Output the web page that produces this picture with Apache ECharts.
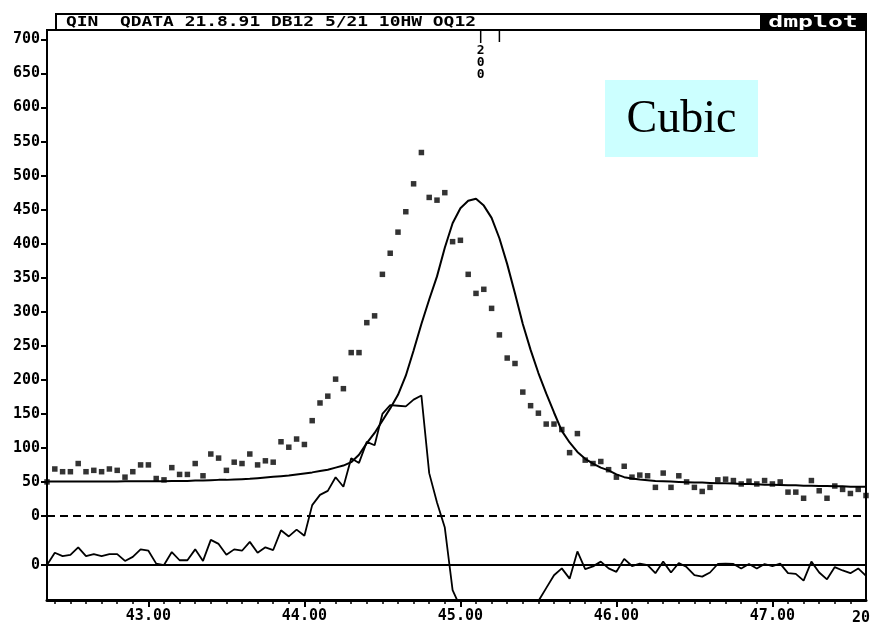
<!DOCTYPE html>
<html>
<head>
<meta charset="utf-8">
<script src="https://cdn.jsdelivr.net/npm/echarts@6/dist/echarts.min.js"></script>
<style>
html,body{margin:0;padding:0;background:#ffffff;}
#chart{width:870px;height:625px;}
</style>
</head>
<body>
<div id="chart"></div>
<script>
// ---- data ----
const twoTheta = [
  42.35,42.40,42.45,42.50,42.55,42.60,42.65,42.70,42.75,42.80,42.85,42.90,42.95,
  43.00,43.05,43.10,43.15,43.20,43.25,43.30,43.35,43.40,43.45,43.50,43.55,43.60,43.65,43.70,43.75,43.80,43.85,43.90,43.95,
  44.00,44.05,44.10,44.15,44.20,44.25,44.30,44.35,44.40,44.45,44.50,44.55,44.60,44.65,44.70,44.75,44.80,44.85,44.90,44.95,
  45.00,45.05,45.10,45.15,45.20,45.25,45.30,45.35,45.40,45.45,45.50,45.55,45.60,45.65,45.70,45.75,45.80,45.85,45.90,45.95,
  46.00,46.05,46.10,46.15,46.20,46.25,46.30,46.35,46.40,46.45,46.50,46.55,46.60,46.65,46.70,46.75,46.80,46.85,46.90,46.95,
  47.00,47.05,47.10,47.15,47.20,47.25,47.30,47.35,47.40,47.45,47.50,47.55,47.60
];
const observed = [
  50,
  69,65,65,77,65,67,65,69,67,57,65,75,75,55,53,71,61,61,77,59,
  91,85,67,79,77,91,75,81,79,109,101,113,105,140,166,176,201,187,240,240,
  284,294,355,386,417,447,488,534,468,464,475,403,405,355,327,333,305,266,232,224,
  182,162,151,135,135,127,93,121,82,77,80,68,57,73,57,60,59,42,63,42,
  59,50,42,36,42,53,54,52,47,51,47,52,47,50,35,35,26,52,37,26,
  44,39,33,39,30
];
const calculated = [
  50.5,50.5,50.5,50.5,50.5,50.5,50.5,50.5,50.5,50.5,51,51,51,51,51,51,51.5,51.5,51.5,52,
  52,52.5,53,53,53.5,54,54.5,55.5,56.5,57.5,58.5,59.5,61,62.5,64,66,68,71,74,79,
  90,107,122,140,158,178,206,243,282,318,352,394,430,452,463,466,456,438,408,370,
  327,282,244,210,180,152,125,108,94,84,77,71,67,61,57,55,53.5,52.5,51.5,51,
  50.5,50,49.5,49,49,48.5,48,48,47.5,47,47,46.5,46,46,45.5,45,45,44.5,44.5,44,
  44,43.5,43.5,43,43,43
];
const difference = [
  0,
  18,13,15,26,13,16,13,16,16,6,12,23,21,2,0,19,7,7,23,6,
  37,31,15,23,21,34,18,26,22,51,42,52,43,88,103,109,129,115,157,150,
  181,176,222,235,234,233,243,249,135,92,55,-37,-62,-111,-138,-122,-131,-139,-138,-106,
  -98,-82,-53,-34,-15,-5,-20,20,-6,-2,5,-5,-10,9,-1.5,2,0,-12,5,-11,
  3,-3,-15,-17,-11,1.5,2,1.5,-5,1.5,-5,1.5,-1.5,2,-12,-13,-23,5,-11,-21,
  -3,-8,-12,-5,-16
];
const yTickValues = [700,650,600,550,500,450,400,350,300,250,200,150,100,50,0];
const diffTickValues = [0];
const xMajorTicks = [43,44,45,46,47];
const xMinorTicks = [
  42.4,42.5,42.6,42.7,42.8,42.9,43.0,43.1,43.2,43.3,43.4,43.5,43.6,43.7,43.8,43.9,
  44.0,44.1,44.2,44.3,44.4,44.5,44.6,44.7,44.8,44.9,45.0,45.1,45.2,45.3,45.4,45.5,
  45.6,45.7,45.8,45.9,46.0,46.1,46.2,46.3,46.4,46.5,46.6,46.7,46.8,46.9,47.0,47.1,
  47.2,47.3,47.4,47.5
];
const reflectionPositions = [45.13, 45.25];
const reflectionLabel = '200';
const headerText = 'QIN  QDATA 21.8.91 DB12 5/21 10HW OQ12';
const logoText = 'dmplot';
const xAxisTitle = '20';
const phaseLabel = 'Cubic';

// ---- chart ----
const X_MIN = 42.35, X_MAX = 47.60;
const Y_MIN = -123.5, Y_MAX = 714;
const D_MIN = -51.4, D_MAX = 786.1;
const monoFont = '"DejaVu Sans Mono", "Liberation Mono", monospace';

const chart = echarts.init(document.getElementById('chart'), null, {renderer: 'canvas'});

const obsData = twoTheta.map((t, k) => [t, observed[k]]);
const calcData = twoTheta.map((t, k) => [t, calculated[k]]);
const diffData = twoTheta.map((t, k) => [t, difference[k]]);

const option = {
  animation: false,
  backgroundColor: '#ffffff',
  grid: {left: 47, right: 4, top: 30, bottom: 25, show: true, borderColor: '#000', borderWidth: 2, backgroundColor: 'transparent'},
  xAxis: [
    {
      type: 'value', min: X_MIN, max: X_MAX, position: 'bottom',
      axisLine: {show: true, onZero: false, lineStyle: {color: '#000', width: 3}},
      axisTick: {show: true, customValues: xMajorTicks, length: 7, lineStyle: {color: '#000', width: 2}},
      axisLabel: {show: true, customValues: xMajorTicks, formatter: v => v.toFixed(2), margin: 9,
        color: '#000', fontFamily: monoFont, fontWeight: 'bold', fontSize: 15},
      splitLine: {show: false}
    },
    {
      type: 'value', min: X_MIN, max: X_MAX, position: 'bottom',
      axisLine: {show: false, onZero: false},
      axisTick: {show: true, customValues: xMinorTicks, length: 4, lineStyle: {color: '#000', width: 1.5}},
      axisLabel: {show: false},
      splitLine: {show: false}
    }
  ],
  yAxis: [
    {
      type: 'value', min: Y_MIN, max: Y_MAX, position: 'left',
      axisLine: {show: true, onZero: false, lineStyle: {color: '#000', width: 2}},
      axisTick: {show: true, customValues: yTickValues, length: 6, lineStyle: {color: '#000', width: 2}},
      axisLabel: {show: true, customValues: yTickValues, formatter: v => String(v), margin: 7,
        color: '#000', fontFamily: monoFont, fontWeight: 'bold', fontSize: 15},
      splitLine: {show: false}
    },
    {
      type: 'value', min: D_MIN, max: D_MAX, position: 'left', offset: 0,
      axisLine: {show: false, onZero: false},
      axisTick: {show: true, customValues: diffTickValues, length: 6, lineStyle: {color: '#000', width: 2}},
      axisLabel: {show: true, customValues: diffTickValues, formatter: v => String(v), margin: 7,
        color: '#000', fontFamily: monoFont, fontWeight: 'bold', fontSize: 15},
      splitLine: {show: false}
    }
  ],
  series: [
    {
      name: 'calculated', type: 'line', xAxisIndex: 0, yAxisIndex: 0, data: calcData,
      showSymbol: false, smooth: false, clip: true,
      lineStyle: {color: '#000', width: 2},
      markLine: {
        silent: true, symbol: ['none', 'none'], label: {show: false},
        lineStyle: {color: '#000', width: 2, type: [8, 5]},
        data: [{yAxis: 0}]
      }
    },
    {
      name: 'observed', type: 'scatter', xAxisIndex: 0, yAxisIndex: 0, data: obsData,
      symbol: 'rect', symbolSize: 5.5, itemStyle: {color: '#000'}, clip: true
    },
    {
      name: 'difference', type: 'line', xAxisIndex: 0, yAxisIndex: 1, data: diffData,
      showSymbol: false, clip: true,
      lineStyle: {color: '#000', width: 1.8},
      markLine: {
        silent: true, symbol: ['none', 'none'], label: {show: false},
        lineStyle: {color: '#000', width: 2, type: 'solid'},
        data: [{yAxis: 0}]
      }
    }
  ]
};
chart.setOption(option);

// annotations placed through the axis scale
const refPx = reflectionPositions.map(p => chart.convertToPixel({xAxisIndex: 0}, p));
const graphics = [
  {type: 'rect', shape: {x: 56, y: 14, width: 810, height: 16}, style: {fill: '#fff', stroke: '#000', lineWidth: 2}, z: 10},
  {type: 'text', x: 66, y: 22.5, scaleX: 1.28, style: {text: headerText, fill: '#000', font: 'bold 14px ' + monoFont, verticalAlign: 'middle', align: 'left'}, z: 11},
  {type: 'rect', shape: {x: 760, y: 13, width: 107, height: 18}, style: {fill: '#000'}, z: 11},
  {type: 'text', x: 813, y: 22.5, scaleX: 1.55, style: {text: logoText, fill: '#fff', font: 'bold 16px ' + monoFont, verticalAlign: 'middle', align: 'center'}, z: 12},
  {type: 'line', shape: {x1: refPx[0], y1: 30, x2: refPx[0], y2: 43}, style: {stroke: '#000', lineWidth: 1.5}, z: 10},
  {type: 'line', shape: {x1: refPx[1], y1: 30, x2: refPx[1], y2: 42}, style: {stroke: '#000', lineWidth: 1.5}, z: 10},
  {type: 'text', x: refPx[0], y: 45, style: {text: reflectionLabel.split('').join('\n'), fill: '#000', font: 'bold 13px ' + monoFont, lineHeight: 12, align: 'center', verticalAlign: 'top'}, z: 10},
  {type: 'rect', shape: {x: 605, y: 80, width: 153, height: 77}, style: {fill: '#ccffff'}, z: 5},
  {type: 'text', x: 681.5, y: 120, style: {text: phaseLabel, fill: '#000', font: '46px "Liberation Serif", "DejaVu Serif", serif', align: 'center', verticalAlign: 'middle'}, z: 6},
  {type: 'text', x: 852, y: 611, style: {text: xAxisTitle, fill: '#000', font: 'bold 15px ' + monoFont, align: 'left', verticalAlign: 'top'}, z: 10}
];
chart.setOption({graphic: graphics});
</script>
</body>
</html>
